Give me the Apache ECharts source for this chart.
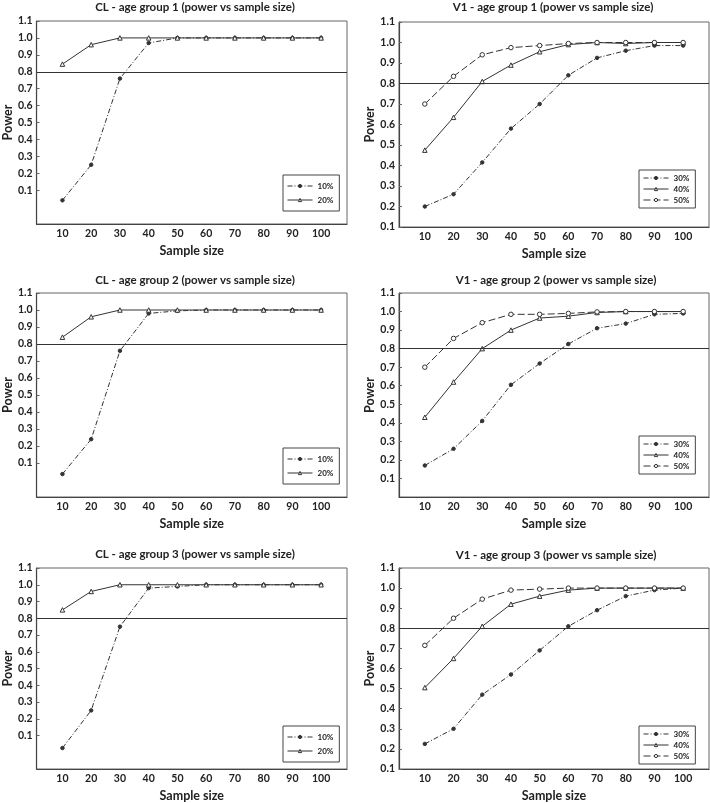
<!DOCTYPE html>
<html>
<head>
<meta charset="utf-8">
<script src="https://cdn.jsdelivr.net/npm/echarts@6/dist/echarts.min.js"></script>
<style>
html,body{margin:0;padding:0;background:#fff;}
#chart{width:710px;height:803px;}
</style>
</head>
<body>
<div id="chart"></div>
<script>
// ---- data ----
const sampleSizes = [10, 20, 30, 40, 50, 60, 70, 80, 90, 100];
const yTickLabels = [0.1, 0.2, 0.3, 0.4, 0.5, 0.6, 0.7, 0.8, 0.9, 1.0, 1.1];

const titles = [
  'CL - age group 1 (power vs sample size)',
  'V1 - age group 1 (power vs sample size)',
  'CL - age group 2 (power vs sample size)',
  'V1 - age group 2 (power vs sample size)',
  'CL - age group 3 (power vs sample size)',
  'V1 - age group 3 (power vs sample size)'
];
const clNames = ['10%', '20%'];
const v1Names = ['30%', '40%', '50%'];

// CL age group 1
const cl1_10 = [0.04, 0.25, 0.76, 0.97, 1.0, 1.0, 1.0, 1.0, 1.0, 1.0];
const cl1_20 = [0.845, 0.96, 1.0, 1.0, 1.0, 1.0, 1.0, 1.0, 1.0, 1.0];
// V1 age group 1
const v11_30 = [0.20, 0.26, 0.415, 0.58, 0.70, 0.84, 0.925, 0.96, 0.985, 0.985];
const v11_40 = [0.475, 0.635, 0.81, 0.89, 0.955, 0.99, 1.0, 0.995, 1.0, 1.0];
const v11_50 = [0.70, 0.835, 0.94, 0.975, 0.985, 0.995, 1.0, 1.0, 1.0, 1.0];
// CL age group 2
const cl2_10 = [0.035, 0.24, 0.76, 0.98, 0.995, 1.0, 1.0, 1.0, 1.0, 1.0];
const cl2_20 = [0.84, 0.96, 1.0, 1.0, 1.0, 1.0, 1.0, 1.0, 1.0, 1.0];
// V1 age group 2
const v12_30 = [0.17, 0.26, 0.41, 0.605, 0.72, 0.825, 0.91, 0.935, 0.985, 0.99];
const v12_40 = [0.43, 0.62, 0.80, 0.90, 0.965, 0.975, 0.995, 1.0, 1.0, 1.0];
const v12_50 = [0.70, 0.855, 0.94, 0.985, 0.985, 0.99, 0.998, 1.0, 1.0, 1.0];
// CL age group 3
const cl3_10 = [0.025, 0.25, 0.75, 0.98, 0.99, 1.0, 1.0, 1.0, 1.0, 1.0];
const cl3_20 = [0.85, 0.96, 1.0, 1.0, 1.0, 1.0, 1.0, 1.0, 1.0, 1.0];
// V1 age group 3
const v13_30 = [0.225, 0.30, 0.47, 0.57, 0.69, 0.81, 0.89, 0.96, 0.99, 1.0];
const v13_40 = [0.505, 0.65, 0.81, 0.92, 0.96, 0.99, 1.0, 1.0, 1.0, 1.0];
const v13_50 = [0.715, 0.85, 0.945, 0.99, 0.995, 1.0, 1.0, 1.0, 1.0, 1.0];

const referencePower = 0.8;

// ---- layout / styles ----
const FONT = 'Lato';
const INK = '#222';
const LINE = '#333';

const panels = [
  {grid:{left:36, top:21, width:311, height:203}, ymin:-0.1, title:[195, 1], legend:{left:283, top:175}, names:clNames, data:[cl1_10, cl1_20]},
  {grid:{left:399, top:22, width:310, height:205}, ymin:0.1, title:[553, 1], legend:{left:639, top:170}, names:v1Names, data:[v11_30, v11_40, v11_50]},
  {grid:{left:36, top:293, width:311, height:204}, ymin:-0.1, title:[195, 274], legend:{left:283, top:448}, names:clNames, data:[cl2_10, cl2_20]},
  {grid:{left:399, top:293, width:310, height:204}, ymin:0, title:[556, 274], legend:{left:639, top:436}, names:v1Names, data:[v12_30, v12_40, v12_50]},
  {grid:{left:36, top:568, width:311, height:204}, ymin:-0.1, title:[195, 548], legend:{left:283, top:726}, names:clNames, data:[cl3_10, cl3_20]},
  {grid:{left:399, top:568, width:310, height:204}, ymin:0.1, title:[556, 549], legend:{left:639, top:726}, names:v1Names, data:[v13_30, v13_40, v13_50]}
];

const styleFor = {
  '10%': {symbol:'circle', symbolSize:3.5, type:[5,2,1,2], fill:LINE},
  '30%': {symbol:'circle', symbolSize:3.5, type:[5,2,1,2], fill:LINE},
  '20%': {symbol:'triangle', symbolSize:4.5, type:'solid', fill:'#fff'},
  '40%': {symbol:'triangle', symbolSize:4.5, type:'solid', fill:'#fff'},
  '50%': {symbol:'circle', symbolSize:4.5, type:[7,3], fill:'#fff'}
};

const option = {
  animation:false,
  backgroundColor:'#fff',
  title:[], grid:[], xAxis:[], yAxis:[], legend:[], series:[]
};

panels.forEach((p, i) => {
  option.title.push({
    text: titles[i], left: p.title[0], top: p.title[1], textAlign:'center',
    padding:0,
    textStyle:{fontFamily:FONT, fontSize:11.5, fontWeight:'bold', color:INK}
  });
  option.grid.push(Object.assign({show:true, borderColor:'#666', borderWidth:1, backgroundColor:'transparent'}, p.grid));
  option.xAxis.push({
    type:'value', gridIndex:i, min:1, max:109,
    name:'Sample size', nameLocation:'middle', nameGap:20,
    nameTextStyle:{fontFamily:FONT, fontSize:12.5, fontWeight:'bold', color:INK},
    axisLine:{show:true, onZero:false, lineStyle:{color:'#444', width:1.2}},
    axisTick:{show:false},
    splitLine:{show:false},
    axisLabel:{customValues:sampleSizes, margin:4, fontFamily:FONT, fontSize:10.5, fontWeight:'bold', color:INK}
  });
  option.yAxis.push({
    type:'value', gridIndex:i, min:p.ymin, max:1.1,
    name:'Power', nameLocation:'middle', nameGap: p.names.length === 2 ? 22 : 23,
    nameTextStyle:{fontFamily:FONT, fontSize:12.5, fontWeight:'bold', color:INK},
    axisLine:{show:true, onZero:false, lineStyle:{color:'#444', width:1.2}},
    axisTick:{show:true, inside:true, length:3, customValues:yTickLabels, lineStyle:{color:'#666'}},
    splitLine:{show:false},
    axisLabel:{customValues:yTickLabels, margin:4, fontFamily:FONT, fontSize:10.5, fontWeight:'bold', color:INK,
      formatter: v => v.toFixed(1)}
  });
  option.legend.push({
    orient:'vertical', left:p.legend.left, top:p.legend.top,
    data:p.names.map(nm => ({
      name:nm,
      itemStyle:{color:styleFor[nm].fill, borderColor:LINE, borderWidth:1},
      lineStyle:{color:LINE, width:1, type:styleFor[nm].type}
    })),
    selectedMode:false,
    itemWidth:25, itemHeight:4, itemGap: p.names.length === 2 ? 4 : 1,
    padding: p.names.length === 2 ? [6,6,6,4] : [3,6,3,4],
    borderColor:'#444', borderWidth:1, borderRadius:0,
    textStyle:{fontFamily:FONT, fontSize:8, fontWeight:'bold', color:INK, lineHeight:10}
  });
  p.names.forEach((nm, k) => {
    const st = styleFor[nm];
    const s = {
      type:'line', name:nm, xAxisIndex:i, yAxisIndex:i,
      data: sampleSizes.map((x, j) => [x, p.data[k][j]]),
      symbol: st.symbol, symbolSize: st.symbolSize, showSymbol:true,
      lineStyle:{color:LINE, width:1, type:st.type},
      itemStyle:{color:st.fill, borderColor:LINE, borderWidth:1},
      emphasis:{disabled:true},
      z: 3 + k
    };
    if (k === 0) {
      s.markLine = {
        silent:true, symbol:['none','none'], label:{show:false},
        lineStyle:{color:'#333', width:1, type:'solid'},
        data:[{yAxis:referencePower}]
      };
    }
    option.series.push(s);
  });
});

const chart = echarts.init(document.getElementById('chart'), null, {renderer:'canvas'});
chart.setOption(option);
</script>
</body>
</html>
